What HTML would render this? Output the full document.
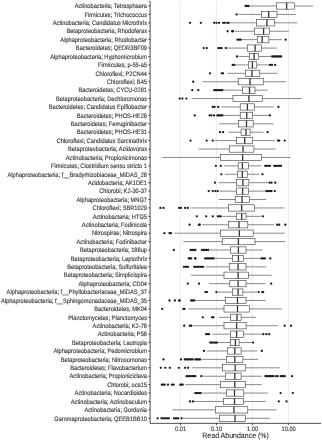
<!DOCTYPE html><html><head><meta charset="utf-8"><style>html,body{margin:0;padding:0;background:#fff;width:322px;height:440px;overflow:hidden}svg{display:block}text{font-family:"Liberation Sans",sans-serif;text-rendering:geometricPrecision}</style></head><body>
<svg width="322" height="440" viewBox="0 0 322 440">
<rect width="322" height="440" fill="#fff"/>
<defs><filter id="tb" x="-2%" y="-2%" width="104%" height="104%"><feGaussianBlur stdDeviation="0.18"/></filter></defs>
<line x1="180.4" y1="0.9" x2="180.4" y2="423.35" stroke="#ebebeb" stroke-width="0.9"/>
<line x1="216.4" y1="0.9" x2="216.4" y2="423.35" stroke="#ebebeb" stroke-width="0.9"/>
<line x1="252.4" y1="0.9" x2="252.4" y2="423.35" stroke="#ebebeb" stroke-width="0.9"/>
<line x1="288.4" y1="0.9" x2="288.4" y2="423.35" stroke="#ebebeb" stroke-width="0.9"/>
<g stroke="#333333" stroke-width="0.58" fill="none">
<path d="M249.2 6H276.3M294.6 6H313"/>
<rect x="276.3" y="2.85" width="18.3" height="6.3" fill="#fff"/>
<path d="M286.6 2.85V9.15" stroke-width="1.3"/>
<path d="M238.4 14.41H261.5M277 14.41H295.9"/>
<rect x="261.5" y="11.26" width="15.5" height="6.3" fill="#fff"/>
<path d="M268.7 11.26V17.56" stroke-width="1.3"/>
<path d="M229.4 22.83H256.6M274.6 22.83H297.3"/>
<rect x="256.6" y="19.68" width="18" height="6.3" fill="#fff"/>
<path d="M266.9 19.68V25.98" stroke-width="1.3"/>
<path d="M234.8 31.24H254.6M269.6 31.24H288.9"/>
<rect x="254.6" y="28.09" width="15" height="6.3" fill="#fff"/>
<path d="M263.6 28.09V34.39" stroke-width="1.3"/>
<path d="M241.1 39.66H257.3M268.9 39.66H282"/>
<rect x="257.3" y="36.51" width="11.6" height="6.3" fill="#fff"/>
<path d="M262.2 36.51V42.81" stroke-width="1.3"/>
<path d="M226.7 48.07H247.3M261.3 48.07H277"/>
<rect x="247.3" y="44.92" width="14" height="6.3" fill="#fff"/>
<path d="M255.1 44.92V51.22" stroke-width="1.3"/>
<path d="M238.8 56.48H249.6M258.7 56.48H271.2"/>
<rect x="249.6" y="53.33" width="9.1" height="6.3" fill="#fff"/>
<path d="M254.1 53.33V59.63" stroke-width="1.3"/>
<path d="M236 64.9H248.3M256.8 64.9H269"/>
<rect x="248.3" y="61.75" width="8.5" height="6.3" fill="#fff"/>
<path d="M252.4 61.75V68.05" stroke-width="1.3"/>
<path d="M227.3 73.31H245.5M259.8 73.31H277.5"/>
<rect x="245.5" y="70.16" width="14.3" height="6.3" fill="#fff"/>
<path d="M252 70.16V76.46" stroke-width="1.3"/>
<path d="M202.6 81.73H238.2M263.6 81.73H286"/>
<rect x="238.2" y="78.58" width="25.4" height="6.3" fill="#fff"/>
<path d="M250 78.58V84.88" stroke-width="1.3"/>
<path d="M224 90.14H242.3M255 90.14H267.6"/>
<rect x="242.3" y="86.99" width="12.7" height="6.3" fill="#fff"/>
<path d="M249.5 86.99V93.29" stroke-width="1.3"/>
<path d="M191.8 98.55H233M262.2 98.55H301.8"/>
<rect x="233" y="95.4" width="29.2" height="6.3" fill="#fff"/>
<path d="M248.9 95.4V101.7" stroke-width="1.3"/>
<path d="M221.3 106.97H240.2M254.3 106.97H273.9"/>
<rect x="240.2" y="103.82" width="14.1" height="6.3" fill="#fff"/>
<path d="M247.4 103.82V110.12" stroke-width="1.3"/>
<path d="M223.5 115.38H240.2M252.5 115.38H269.4"/>
<rect x="240.2" y="112.23" width="12.3" height="6.3" fill="#fff"/>
<path d="M246.7 112.23V118.53" stroke-width="1.3"/>
<path d="M219 123.8H238.4M253.2 123.8H273.4"/>
<rect x="238.4" y="120.65" width="14.8" height="6.3" fill="#fff"/>
<path d="M246.5 120.65V126.95" stroke-width="1.3"/>
<path d="M228.5 132.21H241.1M250.1 132.21H263.6"/>
<rect x="241.1" y="129.06" width="9" height="6.3" fill="#fff"/>
<path d="M246 129.06V135.36" stroke-width="1.3"/>
<path d="M215 140.62H236.6M252.5 140.62H274.8"/>
<rect x="236.6" y="137.47" width="15.9" height="6.3" fill="#fff"/>
<path d="M244.7 137.47V143.77" stroke-width="1.3"/>
<path d="M198.6 149.04H229.3M253.9 149.04H275.7"/>
<rect x="229.3" y="145.89" width="24.6" height="6.3" fill="#fff"/>
<path d="M243 145.89V152.19" stroke-width="1.3"/>
<path d="M162.2 157.45H220.4M261.5 157.45H290.7"/>
<rect x="220.4" y="154.3" width="41.1" height="6.3" fill="#fff"/>
<path d="M242.6 154.3V160.6" stroke-width="1.3"/>
<path d="M224 165.87H238.2M248.4 165.87H261.7"/>
<rect x="238.2" y="162.72" width="10.2" height="6.3" fill="#fff"/>
<path d="M242.4 162.72V169.02" stroke-width="1.3"/>
<path d="M224.9 174.28H237.3M247.2 174.28H259.1"/>
<rect x="237.3" y="171.13" width="9.9" height="6.3" fill="#fff"/>
<path d="M242.3 171.13V177.43" stroke-width="1.3"/>
<path d="M218.6 182.69H236.3M248.9 182.69H268"/>
<rect x="236.3" y="179.54" width="12.6" height="6.3" fill="#fff"/>
<path d="M242.9 179.54V185.84" stroke-width="1.3"/>
<path d="M219.5 191.11H236.3M248.3 191.11H265.4"/>
<rect x="236.3" y="187.96" width="12" height="6.3" fill="#fff"/>
<path d="M242.6 187.96V194.26" stroke-width="1.3"/>
<path d="M218.6 199.52H235.2M249.6 199.52H266.2"/>
<rect x="235.2" y="196.37" width="14.4" height="6.3" fill="#fff"/>
<path d="M242 196.37V202.67" stroke-width="1.3"/>
<path d="M191.1 207.94H228.5M254.6 207.94H284.2"/>
<rect x="228.5" y="204.79" width="26.1" height="6.3" fill="#fff"/>
<path d="M241.7 204.79V211.09" stroke-width="1.3"/>
<path d="M222.2 216.35H236.3M246 216.35H260.9"/>
<rect x="236.3" y="213.2" width="9.7" height="6.3" fill="#fff"/>
<path d="M241.7 213.2V219.5" stroke-width="1.3"/>
<path d="M202.2 224.76H228.5M247.8 224.76H273.9"/>
<rect x="228.5" y="221.61" width="19.3" height="6.3" fill="#fff"/>
<path d="M239 221.61V227.91" stroke-width="1.3"/>
<path d="M174.3 233.18H220.4M253.2 233.18H284.7"/>
<rect x="220.4" y="230.03" width="32.8" height="6.3" fill="#fff"/>
<path d="M239.3 230.03V236.33" stroke-width="1.3"/>
<path d="M183.3 241.59H222.2M255 241.59H285.3"/>
<rect x="222.2" y="238.44" width="32.8" height="6.3" fill="#fff"/>
<path d="M238.4 238.44V244.74" stroke-width="1.3"/>
<path d="M209.6 250.01H230.3M246 250.01H262.7"/>
<rect x="230.3" y="246.86" width="15.7" height="6.3" fill="#fff"/>
<path d="M238.4 246.86V253.16" stroke-width="1.3"/>
<path d="M214.6 258.42H232.7M243.5 258.42H260"/>
<rect x="232.7" y="255.27" width="10.8" height="6.3" fill="#fff"/>
<path d="M238.4 255.27V261.57" stroke-width="1.3"/>
<path d="M205.8 266.83H229.4M246 266.83H266.2"/>
<rect x="229.4" y="263.68" width="16.6" height="6.3" fill="#fff"/>
<path d="M238.1 263.68V269.98" stroke-width="1.3"/>
<path d="M191.1 275.25H224M248.3 275.25H271.6"/>
<rect x="224" y="272.1" width="24.3" height="6.3" fill="#fff"/>
<path d="M238.1 272.1V278.4" stroke-width="1.3"/>
<path d="M209.2 283.66H229.8M246 283.66H265.4"/>
<rect x="229.8" y="280.51" width="16.2" height="6.3" fill="#fff"/>
<path d="M238.1 280.51V286.81" stroke-width="1.3"/>
<path d="M217.7 292.08H232.7M242.9 292.08H257.3"/>
<rect x="232.7" y="288.93" width="10.2" height="6.3" fill="#fff"/>
<path d="M238.1 288.93V295.23" stroke-width="1.3"/>
<path d="M195 300.49H225.5M246 300.49H265.4"/>
<rect x="225.5" y="297.34" width="20.5" height="6.3" fill="#fff"/>
<path d="M237.5 297.34V303.64" stroke-width="1.3"/>
<path d="M188.2 308.9H224M249.6 308.9H281.7"/>
<rect x="224" y="305.75" width="25.6" height="6.3" fill="#fff"/>
<path d="M237.5 305.75V312.05" stroke-width="1.3"/>
<path d="M218.6 317.32H230.3M241.1 317.32H256.1"/>
<rect x="230.3" y="314.17" width="10.8" height="6.3" fill="#fff"/>
<path d="M237 314.17V320.47" stroke-width="1.3"/>
<path d="M192.3 325.73H224M246.1 325.73H278"/>
<rect x="224" y="322.58" width="22.1" height="6.3" fill="#fff"/>
<path d="M236.6 322.58V328.88" stroke-width="1.3"/>
<path d="M212.3 334.15H230.3M243.6 334.15H261.8"/>
<rect x="230.3" y="331" width="13.3" height="6.3" fill="#fff"/>
<path d="M236.6 331V337.3" stroke-width="1.3"/>
<path d="M218.6 342.56H230.6M239.1 342.56H251.9"/>
<rect x="230.6" y="339.41" width="8.5" height="6.3" fill="#fff"/>
<path d="M235.4 339.41V345.71" stroke-width="1.3"/>
<path d="M206.9 350.97H227.3M241.1 350.97H257.3"/>
<rect x="227.3" y="347.82" width="13.8" height="6.3" fill="#fff"/>
<path d="M234.8 347.82V354.12" stroke-width="1.3"/>
<path d="M202.2 359.39H226.7M242.9 359.39H258.2"/>
<rect x="226.7" y="356.24" width="16.2" height="6.3" fill="#fff"/>
<path d="M234.8 356.24V362.54" stroke-width="1.3"/>
<path d="M191.8 367.8H222.6M245.6 367.8H279.9"/>
<rect x="222.6" y="364.65" width="23" height="6.3" fill="#fff"/>
<path d="M235.2 364.65V370.95" stroke-width="1.3"/>
<path d="M203.1 376.22H225.5M241.1 376.22H261.8"/>
<rect x="225.5" y="373.07" width="15.6" height="6.3" fill="#fff"/>
<path d="M234.8 373.07V379.37" stroke-width="1.3"/>
<path d="M185.1 384.63H220.4M245.3 384.63H261.8"/>
<rect x="220.4" y="381.48" width="24.9" height="6.3" fill="#fff"/>
<path d="M234.8 381.48V387.78" stroke-width="1.3"/>
<path d="M202.2 393.04H226.7M243.8 393.04H268"/>
<rect x="226.7" y="389.89" width="17.1" height="6.3" fill="#fff"/>
<path d="M234.5 389.89V396.19" stroke-width="1.3"/>
<path d="M193.6 401.46H223.7M243.5 401.46H265.8"/>
<rect x="223.7" y="398.31" width="19.8" height="6.3" fill="#fff"/>
<path d="M234.5 398.31V404.61" stroke-width="1.3"/>
<path d="M172.5 409.87H215.4M247.8 409.87H276.6"/>
<rect x="215.4" y="406.72" width="32.4" height="6.3" fill="#fff"/>
<path d="M233.9 406.72V413.02" stroke-width="1.3"/>
<path d="M182.4 418.29H219.5M245.3 418.29H269.8"/>
<rect x="219.5" y="415.14" width="25.8" height="6.3" fill="#fff"/>
<path d="M235 415.14V421.44" stroke-width="1.3"/>
</g>
<g fill="#1a1a1a">
<circle cx="245.6" cy="6" r="1.15"/>
<circle cx="247" cy="6" r="1.15"/>
<circle cx="248.4" cy="6" r="1.15"/>
<circle cx="236.6" cy="14.41" r="1.15"/>
<circle cx="190" cy="22.83" r="1.15"/>
<circle cx="200.8" cy="22.83" r="1.15"/>
<circle cx="214.1" cy="22.83" r="1.15"/>
<circle cx="216.4" cy="22.83" r="1.15"/>
<circle cx="219" cy="22.83" r="1.15"/>
<circle cx="223.1" cy="22.83" r="1.15"/>
<circle cx="224.9" cy="22.83" r="1.15"/>
<circle cx="227.3" cy="22.83" r="1.15"/>
<circle cx="228.5" cy="22.83" r="1.15"/>
<circle cx="227.6" cy="31.24" r="1.15"/>
<circle cx="232.1" cy="31.24" r="1.15"/>
<circle cx="233" cy="31.24" r="1.15"/>
<circle cx="237.5" cy="39.66" r="1.15"/>
<circle cx="239" cy="39.66" r="1.15"/>
<circle cx="240.6" cy="39.66" r="1.15"/>
<circle cx="285.6" cy="39.66" r="1.15"/>
<circle cx="203.7" cy="48.07" r="1.15"/>
<circle cx="206.8" cy="48.07" r="1.15"/>
<circle cx="218.3" cy="48.07" r="1.15"/>
<circle cx="219.95" cy="48.07" r="1.15"/>
<circle cx="221.6" cy="48.07" r="1.15"/>
<circle cx="225.8" cy="48.07" r="1.15"/>
<circle cx="237" cy="56.48" r="1.15"/>
<circle cx="272.2" cy="56.48" r="1.15"/>
<circle cx="273.68" cy="56.48" r="1.15"/>
<circle cx="275.17" cy="56.48" r="1.15"/>
<circle cx="276.65" cy="56.48" r="1.15"/>
<circle cx="278.13" cy="56.48" r="1.15"/>
<circle cx="279.62" cy="56.48" r="1.15"/>
<circle cx="281.1" cy="56.48" r="1.15"/>
<circle cx="232.7" cy="64.9" r="1.15"/>
<circle cx="234.4" cy="64.9" r="1.15"/>
<circle cx="270" cy="64.9" r="1.15"/>
<circle cx="272" cy="64.9" r="1.15"/>
<circle cx="275.2" cy="64.9" r="1.15"/>
<circle cx="210" cy="73.31" r="1.15"/>
<circle cx="221.8" cy="73.31" r="1.15"/>
<circle cx="223.1" cy="73.31" r="1.15"/>
<circle cx="193.2" cy="81.73" r="1.15"/>
<circle cx="192.3" cy="90.14" r="1.15"/>
<circle cx="198.3" cy="90.14" r="1.15"/>
<circle cx="214.2" cy="90.14" r="1.15"/>
<circle cx="215.57" cy="90.14" r="1.15"/>
<circle cx="216.93" cy="90.14" r="1.15"/>
<circle cx="218.3" cy="90.14" r="1.15"/>
<circle cx="219.67" cy="90.14" r="1.15"/>
<circle cx="221.03" cy="90.14" r="1.15"/>
<circle cx="222.4" cy="90.14" r="1.15"/>
<circle cx="179.7" cy="98.55" r="1.15"/>
<circle cx="182.4" cy="98.55" r="1.15"/>
<circle cx="186.4" cy="98.55" r="1.15"/>
<circle cx="212.8" cy="106.97" r="1.15"/>
<circle cx="214.6" cy="106.97" r="1.15"/>
<circle cx="218.2" cy="106.97" r="1.15"/>
<circle cx="278.4" cy="106.97" r="1.15"/>
<circle cx="194.7" cy="115.38" r="1.15"/>
<circle cx="209.6" cy="115.38" r="1.15"/>
<circle cx="211.4" cy="115.38" r="1.15"/>
<circle cx="214.1" cy="115.38" r="1.15"/>
<circle cx="217.4" cy="115.38" r="1.15"/>
<circle cx="218.65" cy="115.38" r="1.15"/>
<circle cx="219.9" cy="115.38" r="1.15"/>
<circle cx="221.15" cy="115.38" r="1.15"/>
<circle cx="222.4" cy="115.38" r="1.15"/>
<circle cx="269.8" cy="115.38" r="1.15"/>
<circle cx="220" cy="132.21" r="1.15"/>
<circle cx="223.1" cy="132.21" r="1.15"/>
<circle cx="267.6" cy="132.21" r="1.15"/>
<circle cx="190.5" cy="140.62" r="1.15"/>
<circle cx="206.6" cy="140.62" r="1.15"/>
<circle cx="212.8" cy="140.62" r="1.15"/>
<circle cx="278" cy="140.62" r="1.15"/>
<circle cx="279.3" cy="140.62" r="1.15"/>
<circle cx="284.7" cy="140.62" r="1.15"/>
<circle cx="215.9" cy="165.87" r="1.15"/>
<circle cx="220.8" cy="165.87" r="1.15"/>
<circle cx="265.2" cy="165.87" r="1.15"/>
<circle cx="266.8" cy="165.87" r="1.15"/>
<circle cx="268.4" cy="165.87" r="1.15"/>
<circle cx="270" cy="165.87" r="1.15"/>
<circle cx="274.2" cy="165.87" r="1.15"/>
<circle cx="275.56" cy="165.87" r="1.15"/>
<circle cx="276.92" cy="165.87" r="1.15"/>
<circle cx="278.28" cy="165.87" r="1.15"/>
<circle cx="279.64" cy="165.87" r="1.15"/>
<circle cx="281" cy="165.87" r="1.15"/>
<circle cx="221.3" cy="174.28" r="1.15"/>
<circle cx="262.5" cy="174.28" r="1.15"/>
<circle cx="215" cy="182.69" r="1.15"/>
<circle cx="269.6" cy="182.69" r="1.15"/>
<circle cx="271.5" cy="182.69" r="1.15"/>
<circle cx="275.2" cy="182.69" r="1.15"/>
<circle cx="208.7" cy="191.11" r="1.15"/>
<circle cx="212.8" cy="191.11" r="1.15"/>
<circle cx="215.4" cy="191.11" r="1.15"/>
<circle cx="217.7" cy="191.11" r="1.15"/>
<circle cx="266.4" cy="191.11" r="1.15"/>
<circle cx="267.68" cy="191.11" r="1.15"/>
<circle cx="268.95" cy="191.11" r="1.15"/>
<circle cx="270.23" cy="191.11" r="1.15"/>
<circle cx="271.5" cy="191.11" r="1.15"/>
<circle cx="274.8" cy="191.11" r="1.15"/>
<circle cx="160.4" cy="207.94" r="1.15"/>
<circle cx="163.5" cy="207.94" r="1.15"/>
<circle cx="179.2" cy="207.94" r="1.15"/>
<circle cx="181" cy="207.94" r="1.15"/>
<circle cx="185.1" cy="207.94" r="1.15"/>
<circle cx="187.8" cy="207.94" r="1.15"/>
<circle cx="196.8" cy="216.35" r="1.15"/>
<circle cx="206.2" cy="216.35" r="1.15"/>
<circle cx="212.8" cy="216.35" r="1.15"/>
<circle cx="217.8" cy="216.35" r="1.15"/>
<circle cx="219.25" cy="216.35" r="1.15"/>
<circle cx="220.7" cy="216.35" r="1.15"/>
<circle cx="262.9" cy="216.35" r="1.15"/>
<circle cx="189.6" cy="224.76" r="1.15"/>
<circle cx="198.9" cy="224.76" r="1.15"/>
<circle cx="199.8" cy="224.76" r="1.15"/>
<circle cx="277.2" cy="224.76" r="1.15"/>
<circle cx="279.2" cy="224.76" r="1.15"/>
<circle cx="285.3" cy="224.76" r="1.15"/>
<circle cx="164.4" cy="233.18" r="1.15"/>
<circle cx="169.5" cy="233.18" r="1.15"/>
<circle cx="171" cy="233.18" r="1.15"/>
<circle cx="173.8" cy="250.01" r="1.15"/>
<circle cx="190.6" cy="250.01" r="1.15"/>
<circle cx="192.2" cy="250.01" r="1.15"/>
<circle cx="193.8" cy="250.01" r="1.15"/>
<circle cx="195.4" cy="250.01" r="1.15"/>
<circle cx="201.9" cy="250.01" r="1.15"/>
<circle cx="203.45" cy="250.01" r="1.15"/>
<circle cx="205" cy="250.01" r="1.15"/>
<circle cx="206.55" cy="250.01" r="1.15"/>
<circle cx="208.1" cy="250.01" r="1.15"/>
<circle cx="188.8" cy="258.42" r="1.15"/>
<circle cx="190" cy="258.42" r="1.15"/>
<circle cx="191.2" cy="258.42" r="1.15"/>
<circle cx="195.05" cy="258.42" r="1.15"/>
<circle cx="195.55" cy="258.42" r="1.15"/>
<circle cx="205.2" cy="258.42" r="1.15"/>
<circle cx="206.6" cy="258.42" r="1.15"/>
<circle cx="208" cy="258.42" r="1.15"/>
<circle cx="209.4" cy="258.42" r="1.15"/>
<circle cx="210.8" cy="258.42" r="1.15"/>
<circle cx="212.2" cy="258.42" r="1.15"/>
<circle cx="213.6" cy="258.42" r="1.15"/>
<circle cx="261.5" cy="258.42" r="1.15"/>
<circle cx="263.15" cy="258.42" r="1.15"/>
<circle cx="264.8" cy="258.42" r="1.15"/>
<circle cx="270.3" cy="258.42" r="1.15"/>
<circle cx="183.9" cy="266.83" r="1.15"/>
<circle cx="185.3" cy="266.83" r="1.15"/>
<circle cx="186.7" cy="266.83" r="1.15"/>
<circle cx="188.1" cy="266.83" r="1.15"/>
<circle cx="194.2" cy="266.83" r="1.15"/>
<circle cx="195.68" cy="266.83" r="1.15"/>
<circle cx="197.17" cy="266.83" r="1.15"/>
<circle cx="198.65" cy="266.83" r="1.15"/>
<circle cx="200.13" cy="266.83" r="1.15"/>
<circle cx="201.62" cy="266.83" r="1.15"/>
<circle cx="203.1" cy="266.83" r="1.15"/>
<circle cx="187.8" cy="283.66" r="1.15"/>
<circle cx="199" cy="283.66" r="1.15"/>
<circle cx="271.2" cy="283.66" r="1.15"/>
<circle cx="205.5" cy="292.08" r="1.15"/>
<circle cx="207" cy="292.08" r="1.15"/>
<circle cx="216.4" cy="292.08" r="1.15"/>
<circle cx="258.7" cy="292.08" r="1.15"/>
<circle cx="262.3" cy="292.08" r="1.15"/>
<circle cx="263.2" cy="292.08" r="1.15"/>
<circle cx="169.5" cy="300.49" r="1.15"/>
<circle cx="174.9" cy="300.49" r="1.15"/>
<circle cx="179.1" cy="300.49" r="1.15"/>
<circle cx="179.7" cy="300.49" r="1.15"/>
<circle cx="191.1" cy="300.49" r="1.15"/>
<circle cx="192.6" cy="300.49" r="1.15"/>
<circle cx="194.1" cy="300.49" r="1.15"/>
<circle cx="162.2" cy="308.9" r="1.15"/>
<circle cx="183.4" cy="308.9" r="1.15"/>
<circle cx="184.5" cy="308.9" r="1.15"/>
<circle cx="202.8" cy="317.32" r="1.15"/>
<circle cx="212" cy="317.32" r="1.15"/>
<circle cx="213.5" cy="317.32" r="1.15"/>
<circle cx="184.2" cy="325.73" r="1.15"/>
<circle cx="189.9" cy="325.73" r="1.15"/>
<circle cx="191.2" cy="325.73" r="1.15"/>
<circle cx="284.7" cy="325.73" r="1.15"/>
<circle cx="291" cy="325.73" r="1.15"/>
<circle cx="206.1" cy="334.15" r="1.15"/>
<circle cx="207.55" cy="334.15" r="1.15"/>
<circle cx="209" cy="334.15" r="1.15"/>
<circle cx="263.3" cy="334.15" r="1.15"/>
<circle cx="266.3" cy="334.15" r="1.15"/>
<circle cx="269.2" cy="334.15" r="1.15"/>
<circle cx="210.2" cy="342.56" r="1.15"/>
<circle cx="211.58" cy="342.56" r="1.15"/>
<circle cx="212.96" cy="342.56" r="1.15"/>
<circle cx="214.34" cy="342.56" r="1.15"/>
<circle cx="215.72" cy="342.56" r="1.15"/>
<circle cx="217.1" cy="342.56" r="1.15"/>
<circle cx="253.2" cy="342.56" r="1.15"/>
<circle cx="204" cy="350.97" r="1.15"/>
<circle cx="261.8" cy="350.97" r="1.15"/>
<circle cx="163.5" cy="359.39" r="1.15"/>
<circle cx="181" cy="359.39" r="1.15"/>
<circle cx="184.8" cy="359.39" r="1.15"/>
<circle cx="186.1" cy="359.39" r="1.15"/>
<circle cx="187.4" cy="359.39" r="1.15"/>
<circle cx="188.7" cy="359.39" r="1.15"/>
<circle cx="190" cy="359.39" r="1.15"/>
<circle cx="191.3" cy="359.39" r="1.15"/>
<circle cx="192.6" cy="359.39" r="1.15"/>
<circle cx="195.3" cy="359.39" r="1.15"/>
<circle cx="196.52" cy="359.39" r="1.15"/>
<circle cx="197.75" cy="359.39" r="1.15"/>
<circle cx="198.98" cy="359.39" r="1.15"/>
<circle cx="200.2" cy="359.39" r="1.15"/>
<circle cx="160.8" cy="367.8" r="1.15"/>
<circle cx="165.3" cy="367.8" r="1.15"/>
<circle cx="169.8" cy="367.8" r="1.15"/>
<circle cx="178.8" cy="367.8" r="1.15"/>
<circle cx="185.1" cy="367.8" r="1.15"/>
<circle cx="188.2" cy="367.8" r="1.15"/>
<circle cx="186.6" cy="376.22" r="1.15"/>
<circle cx="188.05" cy="376.22" r="1.15"/>
<circle cx="189.5" cy="376.22" r="1.15"/>
<circle cx="190.95" cy="376.22" r="1.15"/>
<circle cx="192.4" cy="376.22" r="1.15"/>
<circle cx="193.85" cy="376.22" r="1.15"/>
<circle cx="195.3" cy="376.22" r="1.15"/>
<circle cx="201.3" cy="376.22" r="1.15"/>
<circle cx="265.5" cy="376.22" r="1.15"/>
<circle cx="266.8" cy="376.22" r="1.15"/>
<circle cx="268.1" cy="376.22" r="1.15"/>
<circle cx="269.4" cy="376.22" r="1.15"/>
<circle cx="270.7" cy="376.22" r="1.15"/>
<circle cx="272" cy="376.22" r="1.15"/>
<circle cx="273.3" cy="376.22" r="1.15"/>
<circle cx="275.8" cy="376.22" r="1.15"/>
<circle cx="277.8" cy="376.22" r="1.15"/>
<circle cx="280.8" cy="376.22" r="1.15"/>
<circle cx="282.1" cy="376.22" r="1.15"/>
<circle cx="283.4" cy="376.22" r="1.15"/>
<circle cx="284.7" cy="376.22" r="1.15"/>
<circle cx="291.9" cy="376.22" r="1.15"/>
<circle cx="161.8" cy="384.63" r="1.15"/>
<circle cx="163.25" cy="384.63" r="1.15"/>
<circle cx="164.7" cy="384.63" r="1.15"/>
<circle cx="168" cy="384.63" r="1.15"/>
<circle cx="171.9" cy="384.63" r="1.15"/>
<circle cx="173.7" cy="384.63" r="1.15"/>
<circle cx="180.3" cy="384.63" r="1.15"/>
<circle cx="181.5" cy="384.63" r="1.15"/>
<circle cx="182.7" cy="384.63" r="1.15"/>
<circle cx="195.3" cy="393.04" r="1.15"/>
<circle cx="196.65" cy="393.04" r="1.15"/>
<circle cx="198" cy="393.04" r="1.15"/>
<circle cx="199.35" cy="393.04" r="1.15"/>
<circle cx="200.7" cy="393.04" r="1.15"/>
<circle cx="280.6" cy="393.04" r="1.15"/>
<circle cx="292.8" cy="393.04" r="1.15"/>
<circle cx="190" cy="401.46" r="1.15"/>
<circle cx="192.9" cy="401.46" r="1.15"/>
<circle cx="278.8" cy="401.46" r="1.15"/>
<circle cx="286.5" cy="401.46" r="1.15"/>
<circle cx="157.6" cy="418.29" r="1.15"/>
<circle cx="161.4" cy="418.29" r="1.15"/>
<circle cx="162.9" cy="418.29" r="1.15"/>
<circle cx="164.4" cy="418.29" r="1.15"/>
<circle cx="165.9" cy="418.29" r="1.15"/>
<circle cx="167.4" cy="418.29" r="1.15"/>
<circle cx="168.9" cy="418.29" r="1.15"/>
<circle cx="174" cy="418.29" r="1.15"/>
<circle cx="175.4" cy="418.29" r="1.15"/>
<circle cx="176.8" cy="418.29" r="1.15"/>
<circle cx="178.2" cy="418.29" r="1.15"/>
<circle cx="181.5" cy="418.29" r="1.15"/>
</g>
<g stroke="#000000" stroke-width="0.7" fill="none">
<path d="M150.1 0.9V423.35H321"/>
<path d="M148.35 6H150.1M148.35 14.41H150.1M148.35 22.83H150.1M148.35 31.24H150.1M148.35 39.66H150.1M148.35 48.07H150.1M148.35 56.48H150.1M148.35 64.9H150.1M148.35 73.31H150.1M148.35 81.73H150.1M148.35 90.14H150.1M148.35 98.55H150.1M148.35 106.97H150.1M148.35 115.38H150.1M148.35 123.8H150.1M148.35 132.21H150.1M148.35 140.62H150.1M148.35 149.04H150.1M148.35 157.45H150.1M148.35 165.87H150.1M148.35 174.28H150.1M148.35 182.69H150.1M148.35 191.11H150.1M148.35 199.52H150.1M148.35 207.94H150.1M148.35 216.35H150.1M148.35 224.76H150.1M148.35 233.18H150.1M148.35 241.59H150.1M148.35 250.01H150.1M148.35 258.42H150.1M148.35 266.83H150.1M148.35 275.25H150.1M148.35 283.66H150.1M148.35 292.08H150.1M148.35 300.49H150.1M148.35 308.9H150.1M148.35 317.32H150.1M148.35 325.73H150.1M148.35 334.15H150.1M148.35 342.56H150.1M148.35 350.97H150.1M148.35 359.39H150.1M148.35 367.8H150.1M148.35 376.22H150.1M148.35 384.63H150.1M148.35 393.04H150.1M148.35 401.46H150.1M148.35 409.87H150.1M148.35 418.29H150.1M180.4 423.35V425.1M216.4 423.35V425.1M252.4 423.35V425.1M288.4 423.35V425.1"/>
</g>
<g font-size="5.69" fill="#383838" text-anchor="end" stroke="#383838" stroke-width="0.13" filter="url(#tb)">
<text x="147" y="8" transform="matrix(1 0 0 1.12 0 -0.72)">Actinobacteria; Tetrasphaera</text>
<text x="147" y="16.41" transform="matrix(1 0 0 1.12 0 -1.73)">Firmicutes; Trichococcus</text>
<text x="147" y="24.83" transform="matrix(1 0 0 1.12 0 -2.74)">Actinobacteria; Candidatus Microthrix</text>
<text x="147" y="33.24" transform="matrix(1 0 0 1.12 0 -3.75)">Betaproteobacteria; Rhodoferax</text>
<text x="147" y="41.66" transform="matrix(1 0 0 1.12 0 -4.76)">Alphaproteobacteria; Rhodobacter</text>
<text x="147" y="50.07" transform="matrix(1 0 0 1.12 0 -5.77)">Bacteroidetes; QEDR3BF09</text>
<text x="147" y="58.48" transform="matrix(1 0 0 1.12 0 -6.78)">Alphaproteobacteria; Hyphomicrobium</text>
<text x="147" y="66.9" transform="matrix(1 0 0 1.12 0 -7.79)">Firmicutes; p-55-a5</text>
<text x="147" y="75.31" transform="matrix(1 0 0 1.12 0 -8.8)">Chloroflexi; P2CN44</text>
<text x="147" y="83.73" transform="matrix(1 0 0 1.12 0 -9.81)">Chloroflexi; B45</text>
<text x="147" y="92.14" transform="matrix(1 0 0 1.12 0 -10.82)">Bacteroidetes; CYCU-0281</text>
<text x="147" y="100.55" transform="matrix(1 0 0 1.12 0 -11.83)">Betaproteobacteria; Dechloromonas</text>
<text x="147" y="108.97" transform="matrix(1 0 0 1.12 0 -12.84)">Bacteroidetes; Candidatus Epiflobacter</text>
<text x="147" y="117.38" transform="matrix(1 0 0 1.12 0 -13.85)">Bacteroidetes; PHOS-HE28</text>
<text x="147" y="125.8" transform="matrix(1 0 0 1.12 0 -14.86)">Bacteroidetes; Ferruginibacter</text>
<text x="147" y="134.21" transform="matrix(1 0 0 1.12 0 -15.87)">Bacteroidetes; PHOS-HE31</text>
<text x="147" y="142.62" transform="matrix(1 0 0 1.12 0 -16.87)">Chloroflexi; Candidatus Sarcinathrix</text>
<text x="147" y="151.04" transform="matrix(1 0 0 1.12 0 -17.88)">Betaproteobacteria; Acidovorax</text>
<text x="147" y="159.45" transform="matrix(1 0 0 1.12 0 -18.89)">Actinobacteria; Propionicimonas</text>
<text x="147" y="167.87" transform="matrix(1 0 0 1.12 0 -19.9)">Firmicutes; Clostridium sensu stricto 1</text>
<text x="147" y="176.28" transform="matrix(1 0 0 1.12 0 -20.91)">Alphaproteobacteria; f__Bradyrhizobiaceae_MiDAS_28</text>
<text x="147" y="184.69" transform="matrix(1 0 0 1.12 0 -21.92)">Acidobacteria; AK1DE1</text>
<text x="147" y="193.11" transform="matrix(1 0 0 1.12 0 -22.93)">Chlorobi; K2-30-37</text>
<text x="147" y="201.52" transform="matrix(1 0 0 1.12 0 -23.94)">Alphaproteobacteria; MNG7</text>
<text x="147" y="209.94" transform="matrix(1 0 0 1.12 0 -24.95)">Chloroflexi; SBR1029</text>
<text x="147" y="218.35" transform="matrix(1 0 0 1.12 0 -25.96)">Actinobacteria; HTG5</text>
<text x="147" y="226.76" transform="matrix(1 0 0 1.12 0 -26.97)">Actinobacteria; Fodinicola</text>
<text x="147" y="235.18" transform="matrix(1 0 0 1.12 0 -27.98)">Nitrospirae; Nitrospira</text>
<text x="147" y="243.59" transform="matrix(1 0 0 1.12 0 -28.99)">Actinobacteria; Fodinibacter</text>
<text x="147" y="252.01" transform="matrix(1 0 0 1.12 0 -30)">Betaproteobacteria; 188up</text>
<text x="147" y="260.42" transform="matrix(1 0 0 1.12 0 -31.01)">Betaproteobacteria; Leptothrix</text>
<text x="147" y="268.83" transform="matrix(1 0 0 1.12 0 -32.02)">Betaproteobacteria; Sulfuritalea</text>
<text x="147" y="277.25" transform="matrix(1 0 0 1.12 0 -33.03)">Betaproteobacteria; Simplicispira</text>
<text x="147" y="285.66" transform="matrix(1 0 0 1.12 0 -34.04)">Alphaproteobacteria; CD04</text>
<text x="147" y="294.08" transform="matrix(1 0 0 1.12 0 -35.05)">Alphaproteobacteria; f__Phyllobacteriaceae_MiDAS_37</text>
<text x="147" y="302.49" transform="matrix(1 0 0 1.12 0 -36.06)">Alphaproteobacteria; f__Sphingomonadaceae_MiDAS_35</text>
<text x="147" y="310.9" transform="matrix(1 0 0 1.12 0 -37.07)">Bacteroidetes; MK04</text>
<text x="147" y="319.32" transform="matrix(1 0 0 1.12 0 -38.08)">Planctomycetes; Planctomyces</text>
<text x="147" y="327.73" transform="matrix(1 0 0 1.12 0 -39.09)">Actinobacteria; K2-78</text>
<text x="147" y="336.15" transform="matrix(1 0 0 1.12 0 -40.1)">Actinobacteria; P58</text>
<text x="147" y="344.56" transform="matrix(1 0 0 1.12 0 -41.11)">Betaproteobacteria; Lautropia</text>
<text x="147" y="352.97" transform="matrix(1 0 0 1.12 0 -42.12)">Alphaproteobacteria; Pedomicrobium</text>
<text x="147" y="361.39" transform="matrix(1 0 0 1.12 0 -43.13)">Betaproteobacteria; Nitrosomonas</text>
<text x="147" y="369.8" transform="matrix(1 0 0 1.12 0 -44.14)">Bacteroidetes; Flavobacterium</text>
<text x="147" y="378.22" transform="matrix(1 0 0 1.12 0 -45.15)">Actinobacteria; Propioniciclava</text>
<text x="147" y="386.63" transform="matrix(1 0 0 1.12 0 -46.16)">Chlorobi; oca15</text>
<text x="147" y="395.04" transform="matrix(1 0 0 1.12 0 -47.17)">Actinobacteria; Nocardioides</text>
<text x="147" y="403.46" transform="matrix(1 0 0 1.12 0 -48.17)">Actinobacteria; Actinobaculum</text>
<text x="147" y="411.87" transform="matrix(1 0 0 1.12 0 -49.18)">Actinobacteria; Gordonia</text>
<text x="147" y="420.29" transform="matrix(1 0 0 1.12 0 -50.19)">Gammaproteobacteria; QEEB1BB10</text>
</g>
<g font-size="5.69" fill="#383838" text-anchor="middle" stroke="#383838" stroke-width="0.13" filter="url(#tb)">
<text x="180.6" y="430.5" transform="matrix(1 0 0 1.12 0 -51.42)">0.01</text>
<text x="216.6" y="430.5" transform="matrix(1 0 0 1.12 0 -51.42)">0.10</text>
<text x="252.6" y="430.5" transform="matrix(1 0 0 1.12 0 -51.42)">1.00</text>
<text x="288.6" y="430.5" transform="matrix(1 0 0 1.12 0 -51.42)">10.00</text>
</g>
<text x="235.6" y="437.8" font-size="7.0" fill="#000" stroke="#000" stroke-width="0" text-anchor="middle" transform="matrix(1 0 0 1.1 0 -43.53)" filter="url(#tb)">Read Abundance (%)</text>
</svg></body></html>
